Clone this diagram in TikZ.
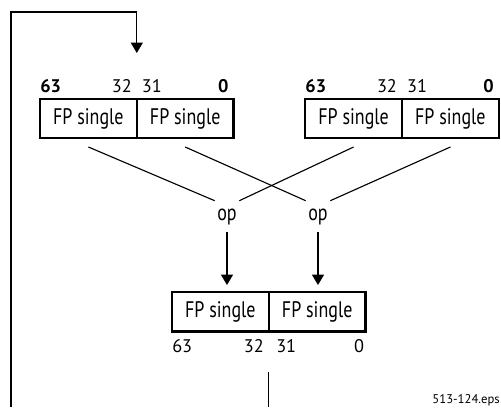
\documentclass[tikz,border=0pt]{standalone}
\usepackage{fontspec}
\setmainfont{PT Sans}[FakeStretch=0.8]
\newfontfamily\numfont{PT Sans}
\usepackage{tikz}
\usetikzlibrary{arrows.meta, positioning}

\begin{document}
\begin{tikzpicture}[
    cell/.style={draw, line width=1.6pt, outer sep=0pt, inner sep=0pt, minimum width=2.42cm, minimum height=0.98cm, font=\fontsize{16}{18}\selectfont},
    bitnum/.style={inner sep=0pt, font=\numfont\fontsize{13}{15}\selectfont},
    hinum/.style={inner sep=0pt, font=\numfont\fontsize{13}{15}\selectfont\bfseries},
    opnode/.style={inner sep=0pt, minimum width=0.6cm, minimum height=0.78cm, font=\fontsize{16}{18}\selectfont},
    wire/.style={line width=0.8pt},
    arr/.style={line width=0.9pt, -{Triangle[width=0.3cm, length=0.26cm]}}
]
    \useasboundingbox (0, 0) rectangle (12.525, 10.175);

    \node[cell] (srcAhi) at (2.21, 7.21) {FP single};
    \node[cell, right=0pt of srcAhi] (srcAlo) {FP single};
    \node[hinum, above right=0.15cm and 0cm of srcAhi.north west] (srcAbit63) {63};
    \node[bitnum, above left=0.15cm and 0.12cm of srcAhi.north east] (srcAbit32) {32};
    \node[bitnum, above right=0.15cm and 0.12cm of srcAlo.north west] (srcAbit31) {31};
    \node[hinum, above left=0.15cm and 0.12cm of srcAlo.north east] (srcAbit0) {0};

    \node[cell] (srcBhi) at (8.84, 7.21) {FP single};
    \node[cell, right=0pt of srcBhi] (srcBlo) {FP single};
    \node[hinum, above right=0.15cm and 0cm of srcBhi.north west] (srcBbit63) {63};
    \node[bitnum, above left=0.15cm and 0.12cm of srcBhi.north east] (srcBbit32) {32};
    \node[bitnum, above right=0.15cm and 0.12cm of srcBlo.north west] (srcBbit31) {31};
    \node[hinum, above left=0.15cm and 0.12cm of srcBlo.north east] (srcBbit0) {0};

    \node[opnode] (opHi) at (5.675, 4.76) {op};
    \node[opnode] (opLo) at (7.95, 4.76) {op};

    \node[cell] (resHi) at (5.51, 2.38) {FP single};
    \node[cell, right=0pt of resHi] (resLo) {FP single};
    \node[bitnum, below right=0.2cm and 0cm of resHi.south west] (resbit63) {63};
    \node[bitnum, below left=0.2cm and 0.12cm of resHi.south east] (resbit32) {32};
    \node[bitnum, below right=0.2cm and 0.18cm of resLo.south west] (resbit31) {31};
    \node[bitnum, below left=0.2cm and 0.03cm of resLo.south east] (resbit0) {0};

    \draw[wire] ([yshift=-0.22cm]srcAhi.south) -- (opHi.north west);
    \draw[wire] ([yshift=-0.22cm]srcAlo.south) -- (opLo.north west);
    \draw[wire] ([yshift=-0.22cm]srcBhi.south) -- (opHi.north east);
    \draw[wire] ([yshift=-0.22cm]srcBlo.south) -- (opLo.north east);

    \draw[arr, shorten >=0.18cm] (opHi.south) -- (opHi.south |- resHi.north);
    \draw[arr, shorten >=0.18cm] (opLo.south) -- (opLo.south |- resLo.north);

    \coordinate (loopbot) at (0.275, 0);
    \coordinate (looptop) at (0.275, 9.875);
    \draw[arr, shorten >=1.15cm] (loopbot) -- (looptop) -| (srcAhi.north east);
    \draw[wire] ([yshift=-1.02cm]resHi.south east) -- (resHi.south east |- loopbot);

    \node[anchor=east, inner sep=0pt, font=\numfont\fontsize{9}{11}\selectfont] (filename) at (12.5, 0.18) {513-124.eps};
\end{tikzpicture}
\end{document}
